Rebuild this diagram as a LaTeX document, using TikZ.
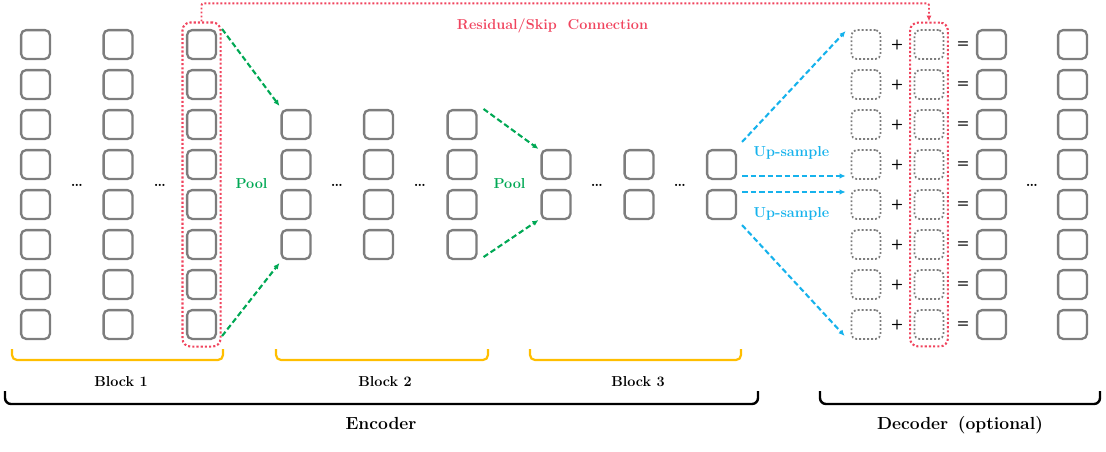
\documentclass[tikz,border=0pt]{standalone}
\usetikzlibrary{arrows.meta,fit}
\definecolor{boxgray}{RGB}{125,125,125}
\definecolor{skipred}{RGB}{240,68,94}
\definecolor{poolgreen}{RGB}{0,168,84}
\definecolor{upblue}{RGB}{22,178,236}
\definecolor{blockyellow}{RGB}{255,190,0}
\begin{document}
\begin{tikzpicture}[x=1pt,y=-1pt,
  cell/.style={draw=boxgray, line width=2.3pt, rounded corners=5pt, minimum size=28.8pt, inner sep=0pt},
  ghost/.style={draw=boxgray, line width=1.8pt, dash pattern=on 1.8pt off 2.2pt, rounded corners=5pt, minimum size=29pt, inner sep=0pt},
  skipbox/.style={draw=skipred, line width=2.1pt, dash pattern=on 2.1pt off 2.1pt, rounded corners=8pt, inner xsep=3.5pt, inner ysep=6.5pt},
  skipline/.style={draw=skipred, line width=1.9pt, dash pattern=on 1.9pt off 2.1pt, rounded corners=2pt, -{Latex[length=6pt,width=5pt]}},
  poolarrow/.style={draw=poolgreen, line width=2.1pt, dash pattern=on 5.5pt off 3pt, -{Latex[length=6pt,width=5.5pt]}},
  uparrow/.style={draw=upblue, line width=2.1pt, dash pattern=on 5.5pt off 3pt, -{Latex[length=6pt,width=5.5pt]}},
  lbl/.style={font=\bfseries\fontsize{14.4}{16}\selectfont, inner sep=0pt},
  biglbl/.style={font=\bfseries\fontsize{17.5}{20}\selectfont, inner sep=0pt, anchor=base},
  gap/.style={font=\bfseries\fontsize{15}{16}\selectfont, inner sep=0pt, anchor=base},
  op/.style={font=\sffamily\bfseries\fontsize{14}{14}\selectfont, inner sep=0pt},
  bracket/.style={line width=2.2pt, rounded corners=5pt},
  bigbracket/.style={line width=2.4pt, rounded corners=6pt}
]
\useasboundingbox (0,0) rectangle (1106,451);

% Block 1: three columns of eight feature cells
\foreach \r in {1,...,8} {
  \foreach \c/\x in {1/35.5,2/118,3/201.5}
    \node[cell] (a\c-\r) at (\x,{4.5+40*\r}) {};
}
% Block 2: three columns of four cells
\foreach \r in {1,...,4} {
  \foreach \c/\x in {1/296,2/378.5,3/462}
    \node[cell] (b\c-\r) at (\x,{84.5+40*\r}) {};
}
% Block 3: three columns of two cells
\foreach \r in {1,2} {
  \foreach \c/\x in {1/556,2/639,3/721.5}
    \node[cell] (c\c-\r) at (\x,{124.5+40*\r}) {};
}
% Decoder: upsampled + skip = output
\foreach \r in {1,...,8} {
  \node[ghost] (d1-\r) at (866,{4.5+40*\r}) {};
  \node[op]    (p-\r)  at (897,{4.5+40*\r}) {+};
  \node[ghost] (d2-\r) at (929,{4.5+40*\r}) {};
  \node[op]    (q-\r)  at (963,{4.5+40*\r}) {=};
  \node[cell]  (d3-\r) at (991.5,{4.5+40*\r}) {};
  \node[cell]  (d4-\r) at (1072.5,{4.5+40*\r}) {};
}

% ellipses between columns
\node[gap] (g1) at (77,186) {\dots};
\node[gap] (g2) at (160,186) {\dots};
\node[gap] (g3) at (337,186) {\dots};
\node[gap] (g4) at (420,186) {\dots};
\node[gap] (g5) at (597,186) {\dots};
\node[gap] (g6) at (680,186) {\dots};
\node[gap] (g7) at (1032,186) {\dots};

% skip connection containers and link
\node[skipbox, fit=(a3-1)(a3-8)] (encskip) {};
\node[skipbox, fit=(d2-1)(d2-8)] (decskip) {};
\draw[skipline] (encskip.north) -- ++(0,-18) -| (decskip.north);
\node[lbl, text=skipred, anchor=base] (skiplbl) at (552.5,29) {Residual/Skip\ \ Connection};

% pooling arrows
\draw[poolarrow] ([xshift=5pt]a3-1.north east) -- ([xshift=-1pt,yshift=3pt]b1-1.north west);
\draw[poolarrow] ([xshift=5pt,yshift=4pt]a3-8.south east) -- ([xshift=-1pt,yshift=-3pt]b1-4.south west);
\draw[poolarrow] ([xshift=6pt]b3-1.north east) -- ([xshift=-2pt]c1-1.north west);
\draw[poolarrow] ([xshift=6pt,yshift=3pt]b3-4.south east) -- ([xshift=-2pt]c1-2.south west);
\node[lbl, text=poolgreen] (pool1) at (251.5,184) {Pool};
\node[lbl, text=poolgreen] (pool2) at (509.5,184) {Pool};

% up-sampling arrows
\draw[uparrow] ([shift={(5pt,7pt)}]c3-1.north east) -- ([shift={(-5pt,-2pt)}]d1-1.north west);
\draw[uparrow] ([xshift=5pt,yshift=-11.5pt]c3-1.east) -- ([xshift=-5pt,yshift=-11.5pt]d1-4.west);
\draw[uparrow] ([xshift=5pt,yshift=12.5pt]c3-2.east) -- ([xshift=-5pt,yshift=12.5pt]d1-5.west);
\draw[uparrow] ([shift={(5pt,-5pt)}]c3-2.south east) -- ([shift={(-6pt,4pt)}]d1-8.south west);
\node[lbl, text=upblue] (up1) at (791.5,153) {Up-sample};
\node[lbl, text=upblue] (up2) at (791.5,214) {Up-sample};

% block brackets
\draw[bracket, blockyellow] (12,349) -- (12,360) -- (223,360) -- (223,349);
\draw[bracket, blockyellow] (276,349) -- (276,360) -- (488,360) -- (488,349);
\draw[bracket, blockyellow] (530,349) -- (530,360) -- (741,360) -- (741,349);
\node[lbl, anchor=base] (blk1) at (121,386) {Block\ 1};
\node[lbl, anchor=base] (blk2) at (385,386) {Block\ 2};
\node[lbl, anchor=base] (blk3) at (638,386) {Block\ 3};

% encoder / decoder brackets
\draw[bigbracket] (5,391) -- (5,404) -- (758,404) -- (758,391);
\draw[bigbracket] (820,391) -- (820,404) -- (1100,404) -- (1100,391);
\node[biglbl] (enc) at (381,429.5) {Encoder};
\node[biglbl] (dec) at (960,429.5) {Decoder\hspace{0.55em}(optional)};
\end{tikzpicture}
\end{document}
